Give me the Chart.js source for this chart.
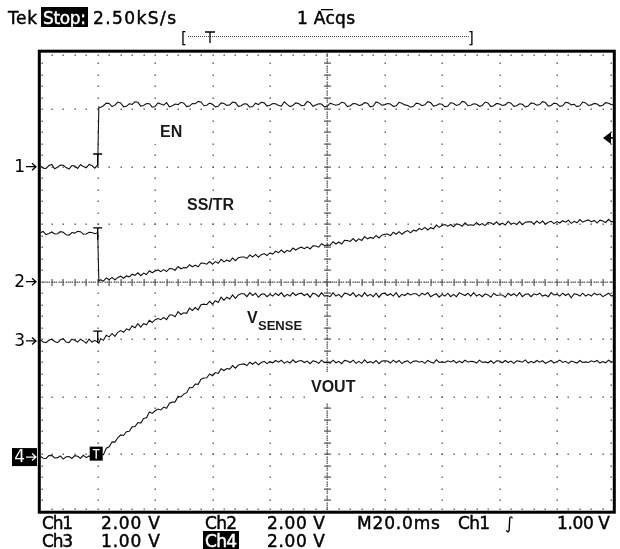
<!DOCTYPE html>
<html><head><meta charset="utf-8">
<script src="https://cdn.jsdelivr.net/npm/chart.js@4.4.1/dist/chart.umd.min.js"></script>
<style>html,body{margin:0;padding:0;background:#fff;}canvas{display:block;}</style>
</head><body>
<canvas id="c" width="620" height="549"></canvas>
<script>
// ---- sample times (ms) ----
const timeMs = [0,1,2,3,4,5,6,7,8,9,10,11,12,13,14,15,16,17,18,19,20,20.4,
21,22,23,24,25,26,27,28,29,30,31,32,33,34,35,36,37,38,39,40,
41,42,43,44,45,46,47,48,49,50,51,52,53,54,55,56,57,58,59,60,
61,62,63,64,65,66,67,68,69,70,71,72,73,74,75,76,77,78,79,80,
81,82,83,84,85,86,87,88,89,90,91,92,93,94,95,96,97,98,99,100,
101,102,103,104,105,106,107,108,109,110,111,112,113,114,115,116,117,118,119,120,
121,122,123,124,125,126,127,128,129,130,131,132,133,134,135,136,137,138,139,140,
141,142,143,144,145,146,147,148,149,150,151,152,153,154,155,156,157,158,159,160,
161,162,163,164,165,166,167,168,169,170,171,172,173,174,175,176,177,178,179,180,
181,182,183,184,185,186,187,188,189,190,191,192,193,194,195,196,197,198,199,200];

// ---- Ch1: EN (V) ----
const enVolts = [0.03,-0.05,-0.06,0.04,0.08,-0.07,-0.02,0.06,0.05,-0.03,-0.08,0.04,0.02,-0.06,0.07,0.01,-0.04,0.08,0.04,-0.05,0.06,2.08,
2.06,2.12,2.21,2.20,2.09,2.14,2.25,2.22,2.08,2.10,
2.19,2.17,2.26,2.24,2.11,2.13,2.20,2.19,2.07,2.09,
2.22,2.18,2.14,2.23,2.08,2.12,2.18,2.16,2.24,2.21,
2.09,2.11,2.20,2.19,2.27,2.25,2.12,2.14,2.21,2.17,
2.08,2.10,2.22,2.20,2.13,2.15,2.25,2.23,2.10,2.12,
2.19,2.18,2.07,2.09,2.21,2.16,2.24,2.22,2.11,2.14,
2.20,2.19,2.13,2.11,2.26,2.17,2.09,2.13,2.22,2.20,
2.12,2.14,2.27,2.23,2.10,2.15,2.19,2.18,2.08,2.10,
2.21,2.17,2.14,2.16,2.24,2.22,2.09,2.12,2.20,2.19,
2.13,2.15,2.23,2.21,2.08,2.11,2.25,2.22,2.14,2.16,
2.20,2.18,2.10,2.12,2.24,2.21,2.15,2.13,2.07,2.10,
2.21,2.19,2.12,2.15,2.26,2.23,2.11,2.13,2.19,2.17,
2.08,2.11,2.23,2.20,2.13,2.16,2.27,2.24,2.12,2.14,
2.19,2.17,2.10,2.13,2.25,2.22,2.09,2.12,2.20,2.18,
2.13,2.15,2.24,2.21,2.10,2.12,2.19,2.17,2.08,2.11,
2.22,2.20,2.14,2.16,2.26,2.23,2.11,2.13,2.21,2.19,
2.10,2.12,2.24,2.22,2.15,2.17,2.09,2.12,2.25,2.22,
2.13,2.15,2.20,2.18,2.11,2.14,2.23,2.21,2.16,2.15];

// ---- Ch2: SS/TR (V) ----
const ssTrVolts = [1.70,1.75,1.64,1.68,1.73,1.66,1.67,1.74,1.72,1.63,1.62,1.71,1.69,1.75,1.74,1.65,1.66,1.72,1.71,1.67,1.70,0.02,
0.07,0.02,0.13,0.07,0.15,0.06,0.15,0.19,0.12,0.20,
0.17,0.26,0.22,0.31,0.21,0.30,0.25,0.38,0.31,0.37,
0.41,0.35,0.42,0.35,0.46,0.45,0.40,0.53,0.45,0.49,
0.48,0.59,0.52,0.58,0.52,0.65,0.64,0.61,0.70,0.61,
0.70,0.64,0.78,0.69,0.75,0.71,0.82,0.73,0.83,0.86,
0.86,0.81,0.93,0.86,0.95,0.85,0.94,0.98,0.91,1.00,
0.96,1.06,1.01,1.10,1.01,1.09,1.05,1.17,1.10,1.16,
1.20,1.15,1.21,1.14,1.25,1.24,1.20,1.32,1.25,1.28,
1.27,1.39,1.31,1.38,1.31,1.44,1.43,1.40,1.50,1.40,
1.49,1.43,1.57,1.49,1.54,1.51,1.61,1.52,1.62,1.65,
1.66,1.60,1.72,1.65,1.74,1.65,1.73,1.78,1.70,1.79,
1.76,1.85,1.81,1.89,1.80,1.88,1.84,1.97,1.89,1.96,
1.99,1.93,1.99,1.91,2.01,1.99,1.93,2.05,1.96,1.98,
1.96,2.06,1.97,2.02,1.95,2.06,2.04,1.99,2.08,1.97,
2.04,1.97,2.10,2.00,2.04,1.99,2.09,1.98,2.07,2.08,
2.08,2.01,2.11,2.03,2.11,2.00,2.07,2.10,2.02,2.09,
2.04,2.12,2.07,2.14,2.03,2.10,2.05,2.16,2.07,2.12,
2.15,2.08,2.13,2.04,2.14,2.11,2.06,2.17,2.08,2.10];

// ---- Ch3: VSENSE (V) ----
const vSenseVolts = [0.02,-0.02,-0.03,0.01,0.03,-0.01,-0.03,0.02,0.04,-0.02,-0.03,0.03,0.01,-0.02,0.03,0.00,-0.04,0.03,-0.02,0.01,-0.02,-0.04,
0.04,0.01,0.10,0.07,0.13,0.08,0.15,0.18,0.15,0.21,
0.19,0.26,0.23,0.30,0.24,0.30,0.28,0.36,0.32,0.37,
0.39,0.37,0.41,0.37,0.45,0.45,0.42,0.51,0.46,0.49,
0.48,0.57,0.53,0.58,0.54,0.63,0.64,0.63,0.69,0.64,
0.70,0.67,0.76,0.71,0.76,0.73,0.80,0.74,0.80,0.82,
0.82,0.77,0.84,0.79,0.83,0.76,0.81,0.82,0.77,0.81,
0.78,0.83,0.79,0.84,0.77,0.81,0.78,0.84,0.79,0.82,
0.83,0.79,0.82,0.76,0.83,0.81,0.77,0.84,0.78,0.79,
0.77,0.84,0.78,0.81,0.76,0.83,0.82,0.79,0.84,0.77,
0.81,0.77,0.84,0.78,0.81,0.77,0.83,0.76,0.82,0.83,
0.79,0.82,0.78,0.84,0.76,0.81,0.79,0.83,0.80,0.82,
0.82,0.78,0.83,0.80,0.84,0.77,0.80,0.82,0.76,0.81,
0.78,0.83,0.77,0.81,0.77,0.84,0.81,0.79,0.83,0.78,
0.84,0.78,0.81,0.77,0.82,0.80,0.76,0.83,0.79,0.80,
0.80,0.76,0.83,0.79,0.82,0.78,0.84,0.77,0.81,0.82,
0.77,0.82,0.80,0.83,0.78,0.80,0.77,0.84,0.80,0.81,
0.78,0.83,0.79,0.82,0.75,0.82,0.81,0.78,0.83,0.78,
0.81,0.78,0.83,0.80,0.82,0.77,0.80,0.83,0.78,0.80];

// ---- Ch4: VOUT (V) ----
const vOutVolts = [0.03,-0.04,-0.05,0.05,0.06,-0.03,-0.02,0.04,-0.07,0.01,0.02,-0.05,0.05,0.03,-0.04,0.06,-0.02,0.04,-0.05,0.02,-0.02,0.00,
0.07,0.08,0.31,0.36,0.53,0.52,0.67,0.77,0.75,0.88,
0.90,1.05,1.06,1.20,1.18,1.34,1.37,1.57,1.52,1.61,
1.67,1.64,1.74,1.70,1.87,1.91,1.92,2.11,2.09,2.19,
2.24,2.42,2.41,2.54,2.53,2.71,2.75,2.76,2.89,2.83,
2.94,2.91,3.07,3.01,3.08,3.06,3.18,3.09,3.20,3.23,
3.24,3.18,3.30,3.23,3.31,3.21,3.29,3.33,3.25,3.32,
3.28,3.36,3.30,3.37,3.26,3.33,3.27,3.38,3.29,3.34,
3.36,3.29,3.34,3.25,3.35,3.32,3.26,3.37,3.28,3.30,
3.27,3.37,3.28,3.33,3.25,3.36,3.34,3.29,3.37,3.26,
3.33,3.26,3.38,3.28,3.32,3.27,3.36,3.25,3.34,3.35,
3.34,3.27,3.37,3.29,3.36,3.25,3.32,3.35,3.26,3.33,
3.35,3.30,3.33,3.26,3.36,3.31,3.27,3.38,3.29,3.31,
3.29,3.35,3.31,3.36,3.27,3.34,3.28,3.37,3.30,3.33,
3.32,3.27,3.37,3.29,3.31,3.28,3.35,3.26,3.35,3.34,
3.28,3.36,3.29,3.34,3.26,3.35,3.33,3.30,3.38,3.27,
3.33,3.28,3.36,3.30,3.35,3.26,3.31,3.36,3.27,3.32,
3.37,3.29,3.33,3.26,3.34,3.31,3.27,3.36,3.29,3.31,
3.29,3.35,3.31,3.36,3.27,3.32,3.28,3.37,3.30,3.33];

// ---- channel settings ----
const channelNames = ['Ch1','Ch2','Ch3','Ch4'];
const voltsPerDiv = [2, 2, 1, 2];
const offsetDiv = [2.0, 0.0, -1.03, -3.05];
const channelMarks = ['1','2','3','4'];
const triggerTimeMs = 20;
const triggerLevelVolts = 1.0;
const timePerDivMs = 20;
const xDivs = 10, yDivs = 8;

const seriesVolts = [enVolts, ssTrVolts, vSenseVolts, vOutVolts];
function toDiv(vals, ch){ return vals.map((v,i)=>({x: timeMs[i], y: offsetDiv[ch] + v/voltsPerDiv[ch]})); }

function fitText(c, s, x, y, w){
  c.letterSpacing = '0px';
  const m = c.measureText(s).width;
  const ls = s.length > 1 ? (w - m) / (s.length - 1) : 0;
  c.letterSpacing = ls.toFixed(2) + 'px';
  c.fillText(s, x, y);
  c.lineWidth = 0.45; c.strokeStyle = c.fillStyle; c.strokeText(s, x, y);
  c.letterSpacing = '0px';
}

function arrow(c, x0, x1, y){
  c.beginPath(); c.moveTo(x0, y); c.lineTo(x1, y);
  c.moveTo(x1-4, y-3.5); c.lineTo(x1, y); c.lineTo(x1-4, y+3.5); c.stroke();
}

const scopePlugin = {
  id:'scope',
  beforeDraw(chart){
    const c = chart.ctx;
    c.save(); c.fillStyle='#fff'; c.fillRect(0,0,chart.width,chart.height); c.restore();
  },
  beforeDatasetsDraw(chart){
    const c = chart.ctx, xs = chart.scales.x, ys = chart.scales.y, a = chart.chartArea;
    c.save();
    c.fillStyle = '#555';
    const dot=(x,y)=>c.fillRect(Math.round(x)-0.5, Math.round(y)-0.5, 1.4, 1.4);
    for (let i=1;i<xDivs;i++){
      const px = xs.getPixelForValue(i*timePerDivMs);
      if (i===xDivs/2) continue;
      for (let j=1;j<yDivs*5;j++) dot(px, ys.getPixelForValue(-yDivs/2 + j/5));
    }
    for (let j=1;j<yDivs;j++){
      if (j===yDivs/2) continue;
      const py = ys.getPixelForValue(-yDivs/2 + j);
      for (let i=1;i<xDivs*5;i++) dot(xs.getPixelForValue(i*timePerDivMs/5), py);
    }
    for (let i=1;i<xDivs*5;i++){
      const px = xs.getPixelForValue(i*timePerDivMs/5);
      dot(px, a.top+3); dot(px, a.bottom-3);
    }
    for (let j=1;j<yDivs*5;j++){
      const py = ys.getPixelForValue(-yDivs/2 + j/5);
      dot(a.left+2, py); dot(a.right-3, py);
    }
    const cx = xs.getPixelForValue(xDivs/2*timePerDivMs), cy = ys.getPixelForValue(0);
    for (let k=1;k<yDivs*25;k++) dot(cx, ys.getPixelForValue(-yDivs/2 + k/25));
    for (let k=1;k<xDivs*25;k++) dot(xs.getPixelForValue(k*timePerDivMs/25), cy);
    for (let j=1;j<yDivs*5;j++){ const py = ys.getPixelForValue(-yDivs/2 + j/5); c.fillRect(Math.round(cx)-3, Math.round(py)-0.5, 7, 1.2); }
    for (let i=1;i<xDivs*5;i++){ const px = xs.getPixelForValue(i*timePerDivMs/5); c.fillRect(Math.round(px)-0.5, Math.round(cy)-3, 1.2, 7); }
    c.restore();
  },
  afterDatasetsDraw(chart){
    const c = chart.ctx, xs = chart.scales.x, ys = chart.scales.y, a = chart.chartArea;
    c.save();
    c.strokeStyle='#000'; c.lineWidth=3;
    c.strokeRect(a.left-1, a.top-0.5, a.right-a.left+1, a.bottom-a.top+1);

    const lab = (bx,by,bw,bh)=>{ c.fillStyle='#fff'; c.fillRect(bx,by,bw,bh); };
    lab(150,117,45,27); lab(180,194,62,22); lab(243,307,66,29); lab(306,373,52,29);
    c.fillStyle='#1a1a1a'; c.textBaseline='alphabetic'; c.textAlign='left';
    c.font='bold 16px "Liberation Sans", Arial, sans-serif';
    c.fillText('EN',160,137);
    c.fillText('SS/TR',187,210);
    c.fillText('V',247,323);
    c.fillText('VOUT',311,392);
    c.font='bold 13px "Liberation Sans", Arial, sans-serif';
    c.fillText('SENSE',258,330);

    const tx = xs.getPixelForValue(triggerTimeMs);
    const ti = timeMs.indexOf(triggerTimeMs);
    c.strokeStyle='#000'; c.lineWidth=1.4;
    for (let ch=0; ch<3; ch++){
      const yTop = ys.getPixelForValue(offsetDiv[ch] + seriesVolts[ch][ti]/voltsPerDiv[ch]);
      const yv = ch===1 ? yTop-5 : yTop-11;
      c.beginPath(); c.moveTo(tx-4.5, yv); c.lineTo(tx+4.5, yv);
      c.moveTo(tx, yv); c.lineTo(tx, yv+12); c.stroke();
    }
    {
      const y4 = ys.getPixelForValue(offsetDiv[3] + seriesVolts[3][ti]/voltsPerDiv[3]);
      c.fillStyle='#000'; c.fillRect(tx-8, y4-11, 13, 14);
      c.strokeStyle='#fff'; c.lineWidth=1.4;
      c.beginPath(); c.moveTo(tx-5, y4-8); c.lineTo(tx+2, y4-8); c.moveTo(tx-1.5,y4-8); c.lineTo(tx-1.5,y4+1); c.stroke();
    }

    c.font='17px "DejaVu Sans", sans-serif'; c.textBaseline='middle'; c.textAlign='right';
    for (let ch=0; ch<4; ch++){
      const py = ys.getPixelForValue(offsetDiv[ch]);
      let col = '#000';
      if (ch===3){ c.fillStyle='#000'; c.fillRect(12, py-9, 25, 18); col='#fff'; }
      c.fillStyle=col; c.strokeStyle=col; c.lineWidth=1.3;
      c.fillText(channelMarks[ch], 25, py+1);
      arrow(c, 26, 36, py);
    }

    const ly = ys.getPixelForValue(offsetDiv[0] + triggerLevelVolts/voltsPerDiv[0]);
    c.fillStyle='#000';
    c.beginPath(); c.moveTo(603, ly); c.lineTo(611, ly-6); c.lineTo(611, ly+6); c.closePath(); c.fill();
    c.fillRect(609, ly-0.8, 5, 1.6);

    c.textAlign='left'; c.textBaseline='alphabetic';
    c.font='17px "DejaVu Sans", sans-serif';
    c.fillStyle='#000';
    fitText(c,'Tek',8,24,29);
    c.fillStyle='#000'; c.fillRect(41,7,47,20);
    c.fillStyle='#fff'; fitText(c,'Stop:',43,24,43);
    c.fillStyle='#000';
    fitText(c,'2.50kS/s',93,24,83);
    fitText(c,'1 Acqs',297,24,58);
    c.fillRect(321,9,12,1.3);
    c.font='15px "DejaVu Sans", sans-serif';
    c.fillText('[',181,43); c.fillText(']',468,43);
    c.fillStyle='#444';
    for (let x=188; x<469; x+=2) c.fillRect(x,36,1,1);
    c.strokeStyle='#000'; c.lineWidth=1.3;
    c.beginPath(); c.moveTo(205,32); c.lineTo(215,32); c.moveTo(210,32); c.lineTo(210,43); c.stroke();

    c.fillStyle='#000';
    c.font='17px "DejaVu Sans", sans-serif';
    fitText(c,channelNames[0],42,529,31); fitText(c,voltsPerDiv[0].toFixed(2)+' V',101,529,59);
    fitText(c,channelNames[1],205,529,32); fitText(c,voltsPerDiv[1].toFixed(2)+' V',267,529,58);
    fitText(c,'M'+timePerDivMs.toFixed(1)+'ms',357,529,83);
    fitText(c,channelNames[0],458,529,32);
    c.fillText('\u222B',505,529);
    fitText(c,triggerLevelVolts.toFixed(2)+' V',557,529,53);
    fitText(c,channelNames[2],42,547,31); fitText(c,voltsPerDiv[2].toFixed(2)+' V',101,547,59);
    c.fillStyle='#000'; c.fillRect(203,531,36,18);
    c.fillStyle='#fff'; fitText(c,channelNames[3],205,547,32);
    c.fillStyle='#000'; fitText(c,voltsPerDiv[3].toFixed(2)+' V',267,547,58);
    c.restore();
  }
};

const ctx = document.getElementById('c').getContext('2d');
new Chart(ctx, {
  type:'line',
  data:{datasets: seriesVolts.map((vals,ch)=>({
    label: channelNames[ch], data: toDiv(vals, ch),
    borderColor:'#111', borderWidth:1.1, pointRadius:0, tension:0, fill:false
  }))},
  options:{
    responsive:false, animation:false, devicePixelRatio:1,
    layout:{padding:{left:40.3, right:5.7, top:51.7, bottom:37.3}},
    scales:{
      x:{type:'linear', min:0, max:xDivs*timePerDivMs, display:false},
      y:{type:'linear', min:-yDivs/2, max:yDivs/2, display:false}
    },
    plugins:{legend:{display:false}, tooltip:{enabled:false}}
  },
  plugins:[scopePlugin]
});
</script>
</body></html>
